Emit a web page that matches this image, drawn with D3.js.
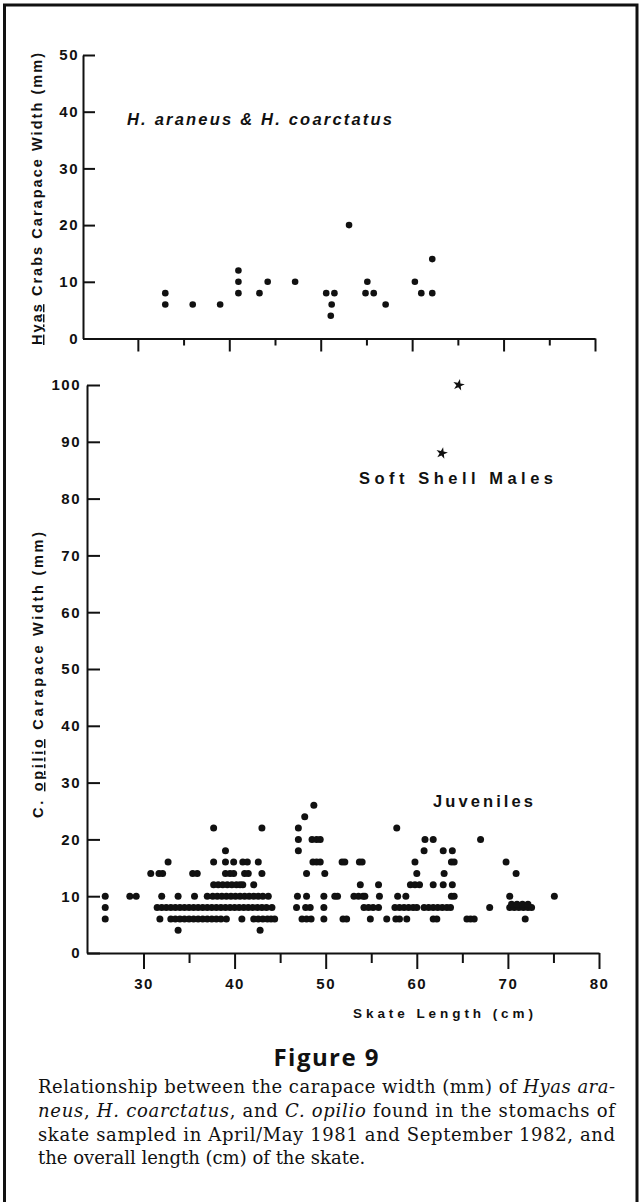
<!DOCTYPE html>
<html>
<head>
<meta charset="utf-8">
<script src="https://cdn.jsdelivr.net/npm/d3@7"></script>
<style>
  body { margin: 0; background: #fff; }
  svg { display: block; }
  .tick text { font-family: "Liberation Sans", Arial, Helvetica, sans-serif; font-weight: bold; font-size: 15px; letter-spacing: 1.5px; fill: #111; }
  .domain, .tick line { stroke: #111; stroke-width: 2; }
</style>
</head>
<body>
<svg id="fig" width="641" height="1202"></svg>
<script>
// -------------------- DATA -------------------- //

// Hyas araneus & H. coarctatus (top panel)
const hyasLength = [33, 33, 36, 39, 41, 41, 41, 43.3, 44.2, 47.2, 50.6, 51.5, 51.2, 51.1, 53.1, 54.9, 55.1, 55.8, 57.1, 60.3, 61, 62.2, 62.2];
const hyasWidth  = [8, 6, 6, 6, 12, 10, 8, 8, 10, 10, 8, 8, 6, 4, 20, 8, 10, 8, 6, 10, 8, 14, 8];

// C. opilio juveniles, skate lengths (cm) for each carapace width row (mm)
const juv4  = [33.8, 42.8];
const juv6  = [25.8, 31.8, 33, 33.5, 34, 34.5, 35, 35.5, 36, 36.5, 37, 37.5, 38, 38.5, 39.1, 40.8, 42.1, 42.6, 43.1, 43.6, 44, 44.4,
               47.4, 47.9, 48.4, 49.8, 51.9, 52.3, 54.9, 56.7, 57.7, 58.1, 58.9, 61.8, 62.2, 65.5, 65.9, 66.3, 71.9];
const juv8  = [25.8, 31.5, 32, 32.5, 33, 33.5, 34, 34.5, 35, 35.5, 36, 36.5, 37, 37.5, 38, 38.5, 39, 39.5, 40, 40.5, 41, 41.5, 42, 42.5, 43, 43.5, 44.1,
               46.8, 47.8, 48.3, 49.8, 54.2, 54.7, 55.2, 55.8, 57.6, 58.1, 58.6, 59.1, 59.6, 60, 60.8, 61.3, 61.8, 62.3, 62.8, 63.3, 63.7,
               68, 70.2, 70.7, 71.2, 71.7, 72.2, 72.6];
const juv8b = [70.4, 71, 71.6, 72.2];
const juv10 = [25.8, 28.5, 29.2, 32, 33.8, 35.6, 37, 37.6, 38.1, 38.6, 39.1, 39.6, 40.1, 40.6, 41.1, 41.6, 42.1, 42.6, 43.1, 43.7,
               46.9, 47.9, 49.8, 51, 51.3, 53.1, 53.6, 54.1, 54.3, 55.9, 57.9, 58.8, 63.8, 64.1, 70.2, 75.1];
const juv12 = [37.7, 38.2, 38.7, 39.2, 39.7, 40.2, 40.6, 40.9, 42.1, 53.8, 55.8, 59.3, 59.8, 60.3, 61.8, 62.9, 63.9];
const juv14 = [30.8, 31.7, 32.1, 35.4, 35.9, 39, 39.5, 39.9, 41.1, 41.5, 43, 47.9, 49.9, 60, 63, 70.9];
const juv16 = [32.7, 37.7, 39, 39.9, 40.9, 41.4, 42.6, 48.6, 49, 49.4, 51.8, 52.1, 53.7, 54, 59.8, 63.8, 64.1, 69.8];
const juv18 = [39, 47, 60.8, 62.9, 63.9];
const juv20 = [47, 48.5, 49, 49.4, 60.9, 61.8, 67];
const juv22 = [37.7, 43, 47, 57.8];
const juv24 = [47.7];
const juv26 = [48.7];

// C. opilio soft shell males
const softLength = [62.75, 64.6];
const softWidth  = [88, 100];

// ticks
const topYTicks = [0, 10, 20, 30, 40, 50];
const botYTicks = [0, 10, 20, 30, 40, 50, 60, 70, 80, 90, 100];
const xMajor = [30, 40, 50, 60, 70, 80];
const xMinor = [35, 45, 55, 65, 75];

const hyas = hyasLength.map((d, i) => [d, hyasWidth[i]]);
const juvRows = [[4, juv4], [6, juv6], [8, juv8], [8.6, juv8b], [10, juv10], [12, juv12], [14, juv14],
                 [16, juv16], [18, juv18], [20, juv20], [22, juv22], [24, juv24], [26, juv26]];
const juveniles = juvRows.flatMap(r => r[1].map(x => [x, r[0]]));
const soft = softLength.map((d, i) => [d, softWidth[i]]);

// -------------------- SETUP -------------------- //
const svg = d3.select("#fig");
const sans = '"Liberation Sans", Arial, Helvetica, sans-serif';
const ink = "#111";

// frame
svg.append("path")
    .attr("d", "M4.5,1202V5H637V1202")
    .attr("fill", "none").attr("stroke", ink).attr("stroke-width", 3);

function label(x, y, txt, size, len, opts = {}) {
    let t = svg.append("text")
        .attr("x", x).attr("y", y)
        .attr("font-family", opts.family || sans)
        .attr("font-weight", opts.weight || "bold")
        .attr("font-style", opts.style || "normal")
        .attr("font-size", size)
        .attr("fill", ink)
        .text(txt);
    if (len) t.attr("textLength", len).attr("lengthAdjust", "spacing");
    if (opts.anchor) t.attr("text-anchor", opts.anchor);
    return t;
}

// -------------------- TOP PANEL (Hyas) -------------------- //
const xTop = d3.scaleLinear().domain([24, 80]).range([83, 595]);
const yTop = d3.scaleLinear().domain([0, 50]).range([338.5, 55]);

svg.append("g").attr("transform", `translate(0,${yTop(0)})`)
    .call(d3.axisBottom(xTop).tickValues(xMajor).tickSizeInner(13).tickSizeOuter(0).tickFormat(""));
svg.append("g").attr("transform", `translate(0,${yTop(0)})`)
    .call(d3.axisBottom(xTop).tickValues(xMinor).tickSizeInner(7).tickSizeOuter(0).tickFormat(""))
    .select(".domain").remove();
svg.append("g").attr("transform", `translate(${xTop(24)},0)`)
    .call(d3.axisLeft(yTop).tickValues(topYTicks).tickSizeInner(-12).tickSizeOuter(0).tickPadding(4));

svg.append("g").selectAll("circle").data(hyas).join("circle")
    .attr("cx", d => xTop(d[0])).attr("cy", d => yTop(d[1]))
    .attr("r", 3.3).attr("fill", ink);

label(127, 125, "H. araneus & H. coarctatus", 16.5, 265, {style: "italic"});

let tTitle = svg.append("text")
    .attr("transform", "translate(42,199) rotate(-90)")
    .attr("text-anchor", "middle")
    .attr("font-family", sans).attr("font-weight", "bold").attr("font-size", 14.5)
    .attr("fill", ink).attr("textLength", 292).attr("lengthAdjust", "spacing");
tTitle.append("tspan").attr("text-decoration", "underline").text("Hyas");
tTitle.append("tspan").text(" Crabs Carapace Width (mm)");

// -------------------- BOTTOM PANEL (C. opilio) -------------------- //
const xBot = d3.scaleLinear().domain([23.8, 80]).range([87, 599]);
const yBot = d3.scaleLinear().domain([0, 100]).range([953, 385]);

svg.append("g").attr("transform", `translate(0,${yBot(0)})`)
    .call(d3.axisBottom(xBot).tickValues(xMajor).tickSizeInner(16).tickSizeOuter(0).tickPadding(9));
svg.append("g").attr("transform", `translate(0,${yBot(0)})`)
    .call(d3.axisBottom(xBot).tickValues(xMinor).tickSizeInner(10).tickSizeOuter(0).tickFormat(""))
    .select(".domain").remove();
svg.append("g").attr("transform", `translate(${xBot(23.8)},0)`)
    .call(d3.axisLeft(yBot).tickValues(botYTicks).tickSizeInner(-13).tickSizeOuter(0).tickPadding(6));

svg.append("g").selectAll("circle").data(juveniles).join("circle")
    .attr("cx", d => xBot(d[0])).attr("cy", d => yBot(d[1]))
    .attr("r", 3.5).attr("fill", ink);

svg.append("g").selectAll("path").data(soft).join("path")
    .attr("d", d3.symbol().type(d3.symbolStar).size(42))
    .attr("transform", d => `translate(${xBot(d[0])},${yBot(d[1])}) rotate(12)`)
    .attr("fill", ink);

label(359, 484, "Soft Shell Males", 16.5, 194);
label(433, 807, "Juveniles", 16.5, 100);
label(353, 1018, "Skate Length (cm)", 13.5, 180);

let bTitle = svg.append("text")
    .attr("transform", "translate(43,675) rotate(-90)")
    .attr("text-anchor", "middle")
    .attr("font-family", sans).attr("font-weight", "bold").attr("font-size", 14.5)
    .attr("fill", ink).attr("textLength", 286).attr("lengthAdjust", "spacing");
bTitle.append("tspan").text("C. ");
bTitle.append("tspan").attr("text-decoration", "underline").text("opilio");
bTitle.append("tspan").text(" Carapace Width (mm)");

// -------------------- CAPTION -------------------- //
label(326, 1066, "Figure 9", 24, 105, {family: '"Open Sans", "DejaVu Sans", sans-serif', anchor: "middle"});

const serif = '"DejaVu Serif", "Liberation Serif", serif';
const capLines = [
    [["Relationship between the carapace width (mm) of ", 0], ["Hyas ara-", 1]],
    [["neus", 1], [", ", 0], ["H. coarctatus", 1], [", and ", 0], ["C. opilio", 1], [" found in the stomachs of", 0]],
    [["skate sampled in April/May 1981 and September 1982, and", 0]],
    [["the overall length (cm) of the skate.", 0]]
];
const capBase = [1093, 1117, 1141, 1164];
capLines.forEach((line, i) => {
    let t = svg.append("text").attr("x", 38).attr("y", capBase[i])
        .attr("font-family", serif).attr("font-size", 18).attr("fill", ink);
    if (i < 3) t.attr("textLength", 577).attr("lengthAdjust", "spacing");
    line.forEach(p => t.append("tspan").attr("font-style", p[1] ? "italic" : "normal").text(p[0]));
});
</script>
</body>
</html>
